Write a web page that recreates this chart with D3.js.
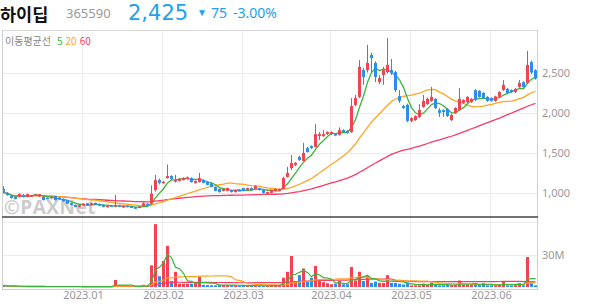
<!DOCTYPE html>
<html><head><meta charset="utf-8">
<script src="https://cdn.jsdelivr.net/npm/d3@7"></script>
<style>body{margin:0;background:#fff;} svg{display:block;font-family:"Noto Sans","Open Sans",sans-serif;}</style>
</head><body><svg id="c" width="594" height="304"></svg>
<script>
const dates = [
"2022-12-02","2022-12-05","2022-12-06","2022-12-07","2022-12-08","2022-12-09","2022-12-12","2022-12-13","2022-12-14","2022-12-15",
"2022-12-16","2022-12-19","2022-12-20","2022-12-21","2022-12-22","2022-12-23","2022-12-26","2022-12-27","2022-12-28","2022-12-29",
"2023-01-02","2023-01-03","2023-01-04","2023-01-05","2023-01-06","2023-01-09","2023-01-10","2023-01-11","2023-01-12","2023-01-13",
"2023-01-16","2023-01-17","2023-01-18","2023-01-19","2023-01-20","2023-01-25","2023-01-26","2023-01-27","2023-01-30","2023-01-31",
"2023-02-01","2023-02-02","2023-02-03","2023-02-06","2023-02-07","2023-02-08","2023-02-09","2023-02-10","2023-02-13","2023-02-14",
"2023-02-15","2023-02-16","2023-02-17","2023-02-20","2023-02-21","2023-02-22","2023-02-23","2023-02-24","2023-02-27","2023-02-28",
"2023-03-02","2023-03-03","2023-03-06","2023-03-07","2023-03-08","2023-03-09","2023-03-10","2023-03-13","2023-03-14","2023-03-15",
"2023-03-16","2023-03-17","2023-03-20","2023-03-21","2023-03-22","2023-03-23","2023-03-24","2023-03-27","2023-03-28","2023-03-29",
"2023-03-30","2023-03-31","2023-04-03","2023-04-04","2023-04-05","2023-04-06","2023-04-07","2023-04-10","2023-04-11","2023-04-12",
"2023-04-13","2023-04-14","2023-04-17","2023-04-18","2023-04-19","2023-04-20","2023-04-21","2023-04-24","2023-04-25","2023-04-26",
"2023-04-27","2023-04-28","2023-05-02","2023-05-03","2023-05-04","2023-05-08","2023-05-09","2023-05-10","2023-05-11","2023-05-12",
"2023-05-15","2023-05-16","2023-05-17","2023-05-18","2023-05-19","2023-05-22","2023-05-23","2023-05-24","2023-05-25","2023-05-26",
"2023-05-30","2023-05-31","2023-06-01","2023-06-02","2023-06-05","2023-06-07","2023-06-08","2023-06-09","2023-06-12","2023-06-13",
"2023-06-14","2023-06-15","2023-06-16","2023-06-19"];

const opens = [1045,995,955,945,945,970,945,950,960,950, 945,935,930,955,935,920,905,865,845,820,
840,865,845,870,855,845,820,840,825,840, 820,835,825,815,810,830,860,860,1030,1155,
1120,1180,1205,1135,1145,1155,1170,1180,1120,1130, 1155,1130,1115,1070,1045,1020,1020,1030,1005,1030,
1055,1030,1055,1045,1055,1030,985,995,1020,1020, 1045,1195,1305,1345,1445,1395,1555,1580,1570,1705,
1705,1730,1730,1730,1720,1780,1770,1755,2095,2195, 2530,2530,2720,2620,2380,2470,2505,2530,2505,2205,
2080,2095,1895,1905,1945,2070,2105,2145,2170,2030, 2030,2045,1905,1995,2030,2120,2130,2130,2280,2270,
2245,2195,2180,2145,2195,2280,2295,2280,2255,2320, 2380,2370,2630,2530];
const highs = [1080,1005,965,950,990,980,985,970,980,980, 955,940,950,960,940,925,910,870,850,845,
865,870,870,875,860,850,840,845,970,845, 835,840,830,820,830,875,865,1090,1220,1175,
1145,1350,1215,1220,1180,1190,1200,1190,1150,1245, 1165,1140,1120,1075,1050,1050,1060,1035,1035,1040,
1060,1060,1065,1090,1060,1035,1010,1035,1050,1050, 1200,1320,1470,1380,1460,1620,1570,1590,1855,1755,
1780,1765,1765,1740,1815,1790,1780,2180,2220,2655, 2560,2845,2745,2640,2470,2570,2930,2670,2520,2280,
2095,2110,1940,1965,2105,2220,2185,2320,2180,2055, 2040,2055,1980,2065,2305,2165,2205,2180,2290,2280,
2255,2205,2190,2210,2265,2405,2305,2290,2305,2405, 2390,2770,2650,2540];
const lows = [990,960,925,915,940,940,940,945,955,945, 900,915,925,900,910,885,855,840,815,815,
835,835,840,845,830,815,815,820,815,820, 815,815,805,795,805,825,835,850,1010,1100,
1110,1175,1150,1125,1140,1150,1165,1125,1110,1125, 1115,1090,1065,1015,1000,1015,1015,1000,1000,1015,
1015,1025,1025,1040,1025,990,975,990,1015,1015, 1040,1185,1280,1330,1395,1390,1500,1545,1565,1655,
1695,1720,1720,1705,1715,1745,1735,1745,2080,2180, 2345,2500,2505,2380,2355,2345,2490,2470,2255,2120,
2045,1880,1880,1895,1930,2060,2095,2135,2045,1945, 1945,1945,1895,1985,2020,2110,2120,2120,2145,2185,
2170,2135,2135,2135,2185,2270,2235,2245,2245,2310, 2310,2360,2480,2410];
const closes = [1000,970,930,920,980,945,980,965,975,975, 905,920,945,905,915,890,860,845,820,840,
860,840,865,850,835,820,835,825,845,825, 830,820,810,800,825,865,840,985,1155,1120,
1135,1205,1170,1155,1170,1180,1190,1130,1145,1180, 1120,1095,1070,1020,1005,1045,1055,1005,1030,1020,
1020,1055,1030,1080,1030,995,1005,1030,1045,1045, 1180,1245,1370,1370,1405,1495,1505,1555,1730,1730,
1730,1755,1755,1715,1780,1755,1745,2080,2180,2570, 2445,2620,2680,2445,2430,2530,2595,2495,2280,2145,
2055,1895,1930,1955,2030,2145,2170,2195,2055,1995, 2005,1955,1970,2055,2170,2155,2195,2170,2155,2195,
2180,2145,2145,2200,2255,2345,2245,2255,2295,2370, 2320,2595,2500,2425];
// volume in millions of shares
const volumes = [1.5,0.6,0.5,0.4,0.5,0.3,0.4,0.3,0.3,0.3, 0.4,0.3,0.3,0.4,0.3,0.4,0.5,0.4,0.5,0.3,
0.3,0.4,0.3,0.3,0.4,0.4,0.3,0.3,6.5,1.2, 0.5,0.4,0.5,0.5,0.6,2.0,0.8,20,58,10,
24,38,5.5,14,3,3,3,3,2.8,9.5, 2,1.8,1.6,1.6,2,1.8,1.8,1.6,1.5,1.4,
1.2,1.0,1.0,1.5,1.0,1.0,1.2,1.6,1.5,2.0, 8.6,14,28.6,5.5,11,17,5,8.6,19.4,5.5,
4.5,3.5,2.5,3,5.5,2.5,2.5,18.5,6,14, 5.5,10,3.8,5,3.8,3.8,11,3.8,3.8,3,
2.3,4.2,1.5,1.5,1.5,3,2,4,2,1.5, 1.5,1.8,1.5,2,6,2,2.2,1.8,3.5,1.8,
3.5,1.5,1.5,1.5,2,5,1.5,1.5,1.8,3.5, 1.5,27.7,4.2,1.5];

const priceTicks = [1000,1500,2000,2500];
const volTicks = [30,60];
const volTickLabels = ["30M",""];
const monthStarts = ["2023-01-02","2023-02-01","2023-03-02","2023-04-03","2023-05-02","2023-06-01"];
const monthLabels = ["2023.01","2023.02","2023.03","2023.04","2023.05","2023.06"];
const maPeriods = [5,20,60];
const maColors = ["#3ab53a","#ffa526","#f53d66"];

const data = dates.map((d,i)=>({d, o:opens[i], h:highs[i], l:lows[i], c:closes[i], v:volumes[i]}));
function ma(arr,n){return arr.map((_,i)=>{const s=Math.max(0,i-n+1);return d3.mean(arr.slice(s,i+1));});}

const svg = d3.select("#c");
const L=2, R=537, PT=30, PB=217, VT=217, VB=289;
const x = d3.scalePoint().domain(dates).range([3,535]);
const yP = d3.scaleLinear().domain([1000,2500]).range([192.5,72.5]);
const yV = d3.scaleLinear().domain([0,30]).range([287,254.5]);
const RED="#f5424f", BLUE="#2a8ef0";

const defs = svg.append("defs");
defs.append("clipPath").attr("id","cp").append("rect").attr("x",L).attr("y",PT).attr("width",R-L).attr("height",PB-PT);
defs.append("clipPath").attr("id","cv").append("rect").attr("x",L).attr("y",VT+1).attr("width",R-L).attr("height",VB-VT-1);

// grid
const g = svg.append("g");
g.selectAll(".hg").data(priceTicks).join("line").attr("x1",L).attr("x2",R)
 .attr("y1",d=>Math.round(yP(d))+0.5).attr("y2",d=>Math.round(yP(d))+0.5).attr("stroke","#ececec");
g.selectAll(".vg").data(volTicks).join("line").attr("x1",L).attr("x2",R)
 .attr("y1",d=>Math.round(yV(d))+0.5).attr("y2",d=>Math.round(yV(d))+0.5).attr("stroke","#ececec");
g.selectAll(".mg").data(monthStarts).join("line").attr("x1",d=>x(d)-0.5).attr("x2",d=>x(d)-0.5)
 .attr("y1",PT).attr("y2",VB).attr("stroke","#ececec");

// watermark
svg.append("text").attr("x",4).attr("y",214).attr("font-size",19).attr("font-weight","bold")
 .attr("font-family","'Open Sans','DejaVu Sans',sans-serif").attr("fill","#c4c4c4").attr("opacity",0.85)
 .attr("letter-spacing",0.5).text("©PAXNet");

// price MAs
const pm = svg.append("g").attr("clip-path","url(#cp)");
maPeriods.slice().reverse().forEach((n,k)=>{
  const vals = ma(closes,n);
  const col = maColors[maPeriods.length-1-k];
  pm.append("path").datum(vals).attr("fill","none").attr("stroke",col).attr("stroke-width",1.3)
   .attr("d",d3.line().x((v,i)=>x(dates[i])+0.5).y(v=>yP(v)));
});
// candles
const cg = svg.append("g").attr("clip-path","url(#cp)");
cg.selectAll(".w").data(data).join("rect")
 .attr("x",d=>x(d.d)).attr("width",1)
 .attr("y",d=>yP(d.h)).attr("height",d=>Math.max(1,yP(d.l)-yP(d.h)))
 .attr("fill",d=>d.c>=d.o?RED:BLUE);
cg.selectAll(".b").data(data).join("rect")
 .attr("x",d=>x(d.d)-1).attr("width",3)
 .attr("y",d=>yP(Math.max(d.o,d.c))).attr("height",d=>Math.max(1.5,Math.abs(yP(d.o)-yP(d.c))))
 .attr("fill",d=>d.c>=d.o?RED:BLUE);

// volume bars
const vg = svg.append("g").attr("clip-path","url(#cv)");
vg.selectAll(".vb").data(data).join("rect")
 .attr("x",d=>x(d.d)-1).attr("width",3)
 .attr("y",d=>yV(d.v)).attr("height",d=>yV(0)-yV(d.v))
 .attr("fill",d=>d.c>=d.o?RED:BLUE);
maPeriods.slice().reverse().forEach((n,k)=>{
  const vals = ma(volumes,n);
  const col = maColors[maPeriods.length-1-k];
  vg.append("path").datum(vals).attr("fill","none").attr("stroke",col).attr("stroke-width",1.2)
   .attr("d",d3.line().x((v,i)=>x(dates[i])+0.5).y(v=>yV(v)));
});

// borders
svg.append("line").attr("x1",L+0.5).attr("x2",L+0.5).attr("y1",PT).attr("y2",VB).attr("stroke","#cfcfcf");
svg.append("line").attr("x1",R+0.5).attr("x2",R+0.5).attr("y1",PT).attr("y2",VB).attr("stroke","#cfcfcf");
svg.append("line").attr("x1",L).attr("x2",R+1).attr("y1",PT+0.5).attr("y2",PT+0.5).attr("stroke","#d8d8d8");
svg.append("line").attr("x1",L).attr("x2",R+1).attr("y1",PB).attr("y2",PB).attr("stroke","#444").attr("stroke-width",1.5);
svg.append("line").attr("x1",L).attr("x2",R+1).attr("y1",VB+0.5).attr("y2",VB+0.5).attr("stroke","#cfcfcf");

// axes labels
const yAx = d3.axisRight(yP).tickValues(priceTicks).tickFormat(d3.format(",")).tickSize(0).tickPadding(5);
const ya = svg.append("g").attr("transform",`translate(${R},0)`).call(yAx);
ya.select(".domain").remove();
ya.selectAll("text").attr("fill","#999").attr("font-size",11).attr("font-family","'Noto Sans',sans-serif");
const vAx = d3.axisRight(yV).tickValues(volTicks).tickFormat((d,i)=>volTickLabels[i]).tickSize(0).tickPadding(5);
const va = svg.append("g").attr("transform",`translate(${R},0)`).call(vAx);
va.select(".domain").remove();
va.selectAll("text").attr("fill","#999").attr("font-size",11).attr("font-family","'Noto Sans',sans-serif");
const xAx = d3.axisBottom(x).tickValues(monthStarts).tickFormat((d,i)=>monthLabels[i]).tickSize(0).tickPadding(0);
const xa = svg.append("g").attr("transform",`translate(0,${VB})`).call(xAx);
xa.select(".domain").remove();
xa.selectAll("text").attr("fill","#999").attr("font-size",11).attr("dy","0.9em").attr("font-family","'Noto Sans',sans-serif");

// legend
const lg = svg.append("text").attr("x",5).attr("y",45).attr("font-size",10).attr("font-family","'Noto Sans CJK KR','Noto Sans',sans-serif");
lg.append("tspan").attr("fill","#888").text("이동평균선");
lg.append("tspan").attr("fill",maColors[0]).attr("dx",6).text("5");
lg.append("tspan").attr("fill",maColors[1]).attr("dx",3).text("20");
lg.append("tspan").attr("fill",maColors[2]).attr("dx",3).text("60");

// header
const KR="'Noto Sans CJK KR','Noto Sans',sans-serif";
svg.append("text").attr("x",0).attr("y",20.5).attr("font-size",17.5).attr("font-weight","bold").attr("font-family",KR).attr("fill","#111").text("하이딥");
svg.append("text").attr("x",66).attr("y",18).attr("font-size",13).attr("fill","#999").text("365590");
svg.append("text").attr("x",128).attr("y",19.6).attr("font-size",21).attr("font-family","'DejaVu Sans',sans-serif").attr("fill","#22a0f0").text(d3.format(",")(closes[closes.length-1]));
svg.append("text").attr("x",197).attr("y",16).attr("font-size",10).attr("fill","#22a0f0").text("▼");
svg.append("text").attr("x",211).attr("y",18).attr("font-size",14).attr("fill","#22a0f0").text("75");
svg.append("text").attr("x",233).attr("y",18).attr("font-size",14).attr("fill","#22a0f0").text("-3.00%");
</script></body></html>
